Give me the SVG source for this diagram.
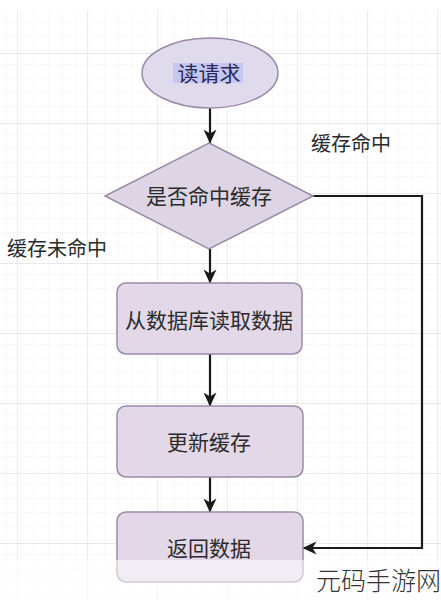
<svg xmlns="http://www.w3.org/2000/svg" width="441" height="600" viewBox="0 0 441 600">
<style>
.node{fill:#e2d8e8;stroke:#9a8aa6;stroke-width:1.5}
.t{font-family:"Liberation Sans","Noto Sans CJK SC",sans-serif;font-size:21px;fill:#2b2b2b;text-anchor:middle;dominant-baseline:central}
.lbl{font-family:"Liberation Sans","Noto Sans CJK SC",sans-serif;font-size:20px;fill:#2b2b2b}
.edge{fill:none;stroke:#1a1a1a;stroke-width:2.2}
</style>
<defs>
<pattern id="minor" x="17" y="53" width="14" height="14" patternUnits="userSpaceOnUse">
<path d="M0 0H14M0 0V14" fill="none" stroke="#f3f3f3" stroke-width="1"/>
</pattern>
<pattern id="major" x="17" y="53" width="70" height="70" patternUnits="userSpaceOnUse">
<rect width="70" height="70" fill="url(#minor)"/>
<path d="M0 0H70M0 0V70" fill="none" stroke="#e2e2e2" stroke-width="1.3"/>
</pattern>
<marker id="arr" viewBox="0 0 14 14" refX="13.5" refY="7" markerWidth="14" markerHeight="14" markerUnits="userSpaceOnUse" orient="auto">
<path d="M0 0.5L14 7L0 13.5L4 7Z" fill="#1a1a1a"/>
</marker>
</defs>
<rect width="441" height="600" fill="#ffffff"/>
<rect x="0" y="10" width="441" height="590" fill="url(#major)"/>
<g id="connectors">
<path class="edge" d="M210 108V143" marker-end="url(#arr)"/>
<path class="edge" d="M210 249V283" marker-end="url(#arr)"/>
<path class="edge" d="M210 354V406" marker-end="url(#arr)"/>
<path class="edge" d="M210 477V512" marker-end="url(#arr)"/>
<path class="edge" d="M313 196H422V548H303" marker-end="url(#arr)"/>
<text class="lbl" x="311" y="151">缓存命中</text>
<text class="lbl" x="7" y="256">缓存未命中</text>
</g>
<g id="start">
<ellipse cx="210" cy="73" rx="68" ry="35" fill="#dfdaec" stroke="#9a8aa6" stroke-width="1.5"/>
<rect x="173" y="63" width="70" height="20" fill="#c6c6f2"/>
<text class="t" x="209" y="73" style="fill:#2a2a58">读请求</text>
</g>
<g id="decision">
<polygon class="node" points="209,143 313,196 209,249 105,196" style="fill:#ddd5e4"/>
<text class="t" x="209" y="196">是否命中缓存</text>
</g>
<g id="readdb">
<rect class="node" x="117" y="283" width="185" height="71" rx="9"/>
<text class="t" x="209" y="320">从数据库读取数据</text>
</g>
<g id="update">
<rect class="node" x="117" y="406" width="186" height="71" rx="9"/>
<text class="t" x="209" y="442">更新缓存</text>
</g>
<g id="return">
<rect class="node" x="117" y="512" width="186" height="70" rx="9"/>
<text class="t" x="209" y="548">返回数据</text>
</g>
<rect x="0" y="560" width="441" height="40" fill="#ffffff" opacity="0.55"/>
<text x="316" y="590" style="font-family:'Noto Sans CJK SC',sans-serif;font-size:25px;font-weight:300;fill:#333333">元码手游网</text>
</svg>
